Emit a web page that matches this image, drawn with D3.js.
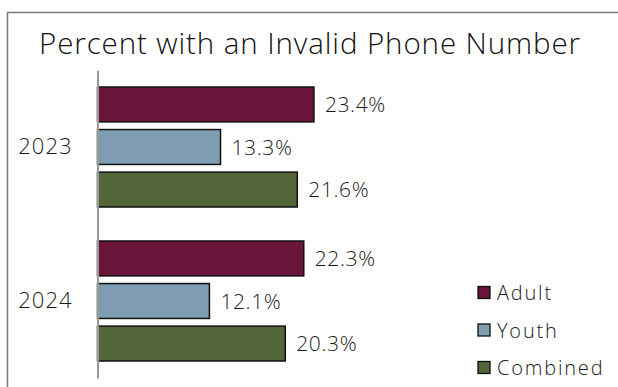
<!DOCTYPE html>
<html>
<head>
<meta charset="utf-8">
<script src="https://cdn.jsdelivr.net/npm/d3@7/dist/d3.min.js"></script>
<style>
  html, body { margin: 0; padding: 0; background: #fff; }
  svg { display: block; font-family: "Open Sans", "DejaVu Sans", sans-serif; font-weight: 300; }
</style>
</head>
<body>
<svg id="chart" width="618" height="387"></svg>
<script>
// Chart data
const years = ["2023", "2024"];
const seriesNames = ["Adult", "Youth", "Combined"];
const adult = [23.4, 22.3];
const youth = [13.3, 12.1];
const combined = [21.6, 20.3];
const seriesColors = ["#6b1439", "#7f9db2", "#526639"];
const title = "Percent with an Invalid Phone Number";

const values = [adult, youth, combined];
const rows = years.flatMap((yr, i) =>
  seriesNames.map((s, j) => ({ year: yr, series: s, value: values[j][i], color: seriesColors[j] }))
);

const svg = d3.select("#chart");
const W = 618, H = 387;

// Outer frame
svg.append("rect")
  .attr("x", 7.5).attr("y", 12.5)
  .attr("width", W).attr("height", H)
  .attr("fill", "#fff").attr("stroke", "#7a7a7a").attr("stroke-width", 1.5);

svg.append("text")
  .attr("x", 310).attr("y", 54)
  .attr("text-anchor", "middle")
  .attr("font-size", 29.5)
  .attr("letter-spacing", 0.9)
  .attr("fill", "#111")
  .text(title);

const axisX = 97.5;
const x = d3.scaleLinear().domain([0, 30]).range([axisX, axisX + 9.25 * 30]);

const yGroup = d3.scaleBand().domain(years).range([70, 378]);
const yInner = d3.scaleBand().domain(seriesNames)
  .range([17, yGroup.bandwidth() - 17])
  .paddingInner(0.18);

const g = svg.append("g");

const bars = g.selectAll("g.bar").data(rows).join("g")
  .attr("transform", d => `translate(0,${yGroup(d.year) + yInner(d.series)})`);

bars.append("rect")
  .attr("x", x(0))
  .attr("y", 0)
  .attr("width", d => x(d.value) - x(0))
  .attr("height", yInner.bandwidth())
  .attr("fill", d => d.color)
  .attr("stroke", "#111")
  .attr("stroke-width", 1.5);

bars.append("text")
  .attr("x", d => x(d.value) + 11)
  .attr("y", yInner.bandwidth() / 2)
  .attr("dy", "0.36em")
  .attr("font-size", 21)
  .attr("letter-spacing", 0.6)
  .attr("fill", "#1a1a1a")
  .text(d => d.value.toFixed(1) + "%");

// Category axis
const yAxis = d3.axisLeft(yGroup).tickSize(0).tickPadding(25);
const ax = svg.append("g").attr("transform", `translate(${axisX},0)`).call(yAxis);
ax.select(".domain").attr("stroke", "#999").attr("stroke-width", 2);
ax.selectAll(".tick text")
  .attr("font-family", "'Open Sans', sans-serif")
  .attr("font-weight", 300)
  .attr("font-size", 22)
  .attr("letter-spacing", 1)
  .attr("fill", "#1a1a1a");

// Legend
const legend = svg.append("g").selectAll("g").data(seriesNames).join("g")
  .attr("transform", (d, i) => `translate(478,${293 + i * 37.5})`);
legend.append("rect")
  .attr("x", 0).attr("y", -6.5)
  .attr("width", 12).attr("height", 12)
  .attr("fill", (d, i) => seriesColors[i])
  .attr("stroke", "#111").attr("stroke-width", 1.3);
legend.append("text")
  .attr("x", 19).attr("y", 0).attr("dy", "0.36em")
  .attr("font-size", 20)
  .attr("letter-spacing", 1.8)
  .attr("fill", "#1a1a1a")
  .text(d => d);
</script>
</body>
</html>
